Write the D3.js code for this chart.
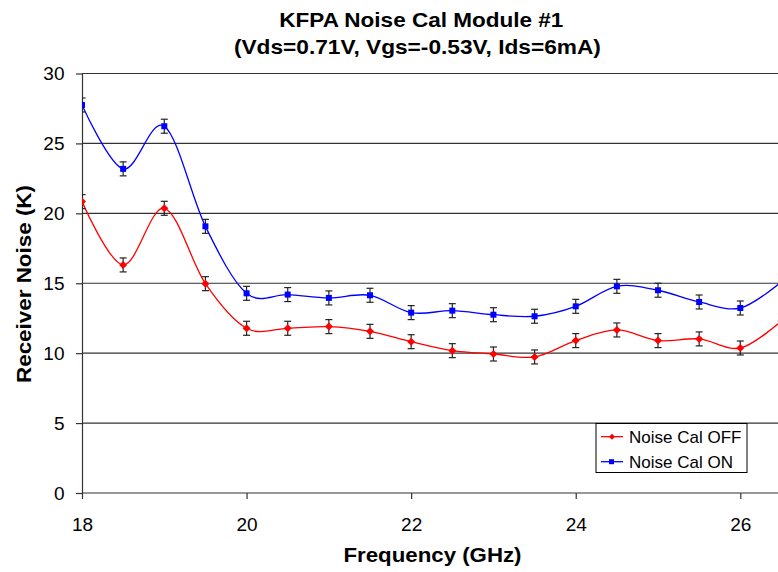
<!DOCTYPE html>
<html>
<head>
<meta charset="utf-8">
<script src="https://cdn.jsdelivr.net/npm/d3@7"></script>
<style>
  html, body { margin: 0; padding: 0; background: #fff; }
  svg { display: block; font-family: Arial, "Liberation Sans", sans-serif; }
</style>
</head>
<body>
<svg id="chart" width="778" height="572"></svg>
<script>
// Measured receiver noise, 0.5 GHz steps
const frequencies = [18, 18.5, 19, 19.5, 20, 20.5, 21, 21.5, 22, 22.5, 23, 23.5, 24, 24.5, 25, 25.5, 26, 26.5];
const noiseCalOff = [20.84, 16.31, 20.36, 14.97, 11.78, 11.78, 11.9, 11.56, 10.82, 10.18, 9.94, 9.73, 10.9, 11.66, 10.9, 11.02, 10.37, 12.3];
const noiseCalOn  = [27.75, 23.18, 26.23, 19.07, 14.28, 14.19, 13.95, 14.14, 12.9, 13.04, 12.75, 12.64, 13.35, 14.78, 14.5, 13.66, 13.23, 15.1];
const errorHalf = 0.5;
const yTicks = [0, 5, 10, 15, 20, 25, 30];
const xTicks = [18, 20, 22, 24, 26];
const seriesNames = ["Noise Cal OFF", "Noise Cal ON"];
const titleLines = ["KFPA Noise Cal Module #1", "(Vds=0.71V, Vgs=-0.53V, Ids=6mA)"];

const svg = d3.select("#chart");
const plotLeft = 82, plotRight = 790, plotTop = 73.5, plotBottom = 493;
const axisColor = "#333";

const x = d3.scaleLinear().domain([18, 26]).range([plotLeft, 740.3]);
const y = d3.scaleLinear().domain([0, 30]).range([plotBottom, plotTop]);

svg.append("defs").append("clipPath").attr("id", "plotClip")
  .append("rect").attr("x", plotLeft).attr("y", 0).attr("width", plotRight - plotLeft).attr("height", 572);

// horizontal gridlines
svg.append("g").selectAll("line").data(yTicks.filter(d => d > 0)).join("line")
  .attr("x1", plotLeft).attr("x2", plotRight)
  .attr("y1", d => y(d)).attr("y2", d => y(d))
  .attr("stroke", axisColor).attr("stroke-width", 1.2);

// y axis
const yAxis = svg.append("g").attr("transform", `translate(${plotLeft},0)`)
  .call(d3.axisLeft(y).tickValues(yTicks).tickSize(6).tickPadding(11.5).tickSizeOuter(0));
yAxis.select(".domain").attr("stroke", axisColor).attr("stroke-width", 1.2);
yAxis.selectAll(".tick line").attr("stroke", axisColor).attr("stroke-width", 1.2);
yAxis.selectAll(".tick text").attr("font-size", 19).attr("font-family", "Arial, 'Liberation Sans', sans-serif").attr("fill", "#000");

// x axis
const xAxis = svg.append("g").attr("transform", `translate(0,${plotBottom})`)
  .call(d3.axisBottom(x).tickValues(xTicks).tickSize(6).tickPadding(19).tickSizeOuter(0));
xAxis.select(".domain").attr("d", `M${plotLeft},0H${plotRight}`).attr("stroke", axisColor).attr("stroke-width", 1.2);
xAxis.selectAll(".tick line").attr("stroke", axisColor).attr("stroke-width", 1.2);
xAxis.selectAll(".tick text").attr("font-size", 19).attr("font-family", "Arial, 'Liberation Sans', sans-serif").attr("fill", "#000");

const series = [
  { name: seriesNames[0], values: noiseCalOff, color: "#ff0000", marker: "diamond" },
  { name: seriesNames[1], values: noiseCalOn, color: "#0000ff", marker: "square" }
];

const line = d3.line().x((d, i) => x(frequencies[i])).y(d => y(d)).curve(d3.curveCardinal.tension(0));

const plot = svg.append("g").attr("clip-path", "url(#plotClip)");

series.forEach(s => {
  plot.append("path").datum(s.values)
    .attr("d", line).attr("fill", "none")
    .attr("stroke", s.color).attr("stroke-width", 1.3);
});

// error bars
series.forEach(s => {
  const g = plot.append("g");
  s.values.forEach((v, i) => {
    const cx = x(frequencies[i]);
    const y1 = y(v + errorHalf), y2 = y(v - errorHalf);
    g.append("line").attr("x1", cx).attr("x2", cx).attr("y1", y1).attr("y2", y2)
      .attr("stroke", "#222").attr("stroke-width", 1.2);
    [y1, y2].forEach(yy => g.append("line").attr("x1", cx - 3.5).attr("x2", cx + 3.5)
      .attr("y1", yy).attr("y2", yy).attr("stroke", "#222").attr("stroke-width", 1.2));
  });
});

// markers
function drawMarker(g, type, cx, cy, color) {
  if (type === "square") {
    g.append("rect").attr("x", cx - 3).attr("y", cy - 3).attr("width", 6).attr("height", 6).attr("fill", color);
  } else {
    g.append("path").attr("d", `M${cx},${cy - 4}L${cx + 4},${cy}L${cx},${cy + 4}L${cx - 4},${cy}Z`).attr("fill", color);
  }
}
series.forEach(s => {
  const g = plot.append("g");
  s.values.forEach((v, i) => drawMarker(g, s.marker, x(frequencies[i]), y(v), s.color));
});

// titles
const title = svg.append("g").attr("font-weight", "bold").attr("font-size", 20.5).attr("text-anchor", "middle");
title.append("text").attr("x", 421.3).attr("y", 26.5)
  .attr("textLength", 284).attr("lengthAdjust", "spacingAndGlyphs").text(titleLines[0]);
title.append("text").attr("x", 417.4).attr("y", 54.3)
  .attr("textLength", 367).attr("lengthAdjust", "spacingAndGlyphs").text(titleLines[1]);

svg.append("text").attr("x", 432.5).attr("y", 562).attr("text-anchor", "middle")
  .attr("font-weight", "bold").attr("font-size", 21)
  .attr("textLength", 178).attr("lengthAdjust", "spacingAndGlyphs").text("Frequency (GHz)");

svg.append("text").attr("transform", "translate(30.5,284) rotate(-90)").attr("text-anchor", "middle")
  .attr("font-weight", "bold").attr("font-size", 21)
  .attr("textLength", 198).attr("lengthAdjust", "spacingAndGlyphs").text("Receiver Noise (K)");

// legend
const lg = svg.append("g");
lg.append("rect").attr("x", 596).attr("y", 423.5).attr("width", 151).attr("height", 49)
  .attr("fill", "#fff").attr("stroke", "#000").attr("stroke-width", 1);
series.forEach((s, i) => {
  const ly = 436.7 + i * 25;
  lg.append("line").attr("x1", 601).attr("x2", 623).attr("y1", ly).attr("y2", ly)
    .attr("stroke", s.color).attr("stroke-width", 1.3);
  if (s.marker === "square") {
    lg.append("rect").attr("x", 609).attr("y", ly - 2.5).attr("width", 5).attr("height", 5).attr("fill", s.color);
  } else {
    lg.append("path").attr("d", `M612,${ly - 3}L615,${ly}L612,${ly + 3}L609,${ly}Z`).attr("fill", s.color);
  }
  lg.append("text").attr("x", 629).attr("y", ly + 6.5).attr("font-size", 17).text(s.name);
});
</script>
</body>
</html>
